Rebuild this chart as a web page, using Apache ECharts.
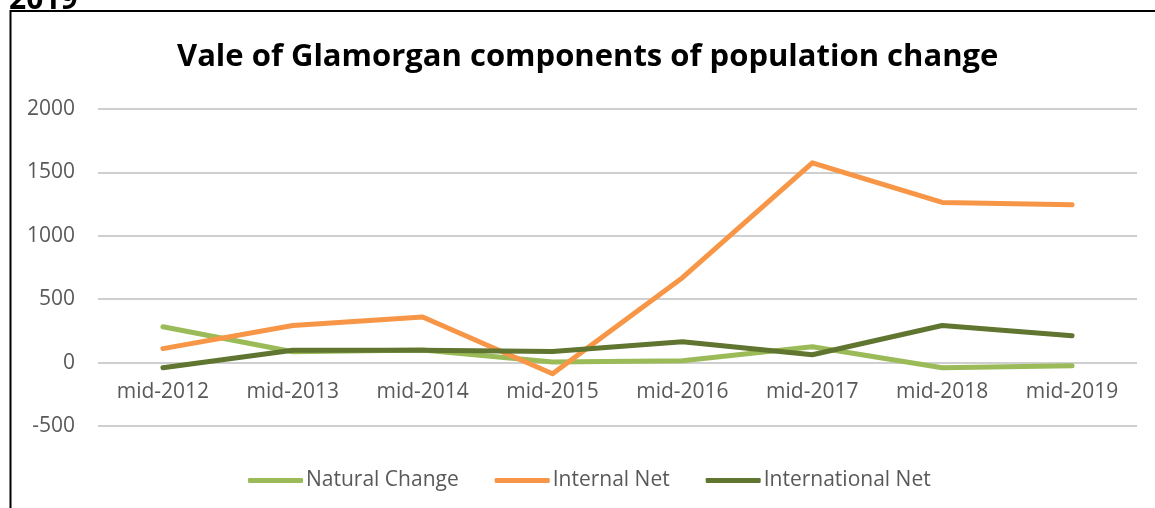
<!DOCTYPE html>
<html>
<head>
<meta charset="utf-8">
<script src="https://cdn.jsdelivr.net/npm/echarts@6/dist/echarts.min.js"></script>
<style>
html,body{margin:0;padding:0;background:#fff;}
#chart{width:1155px;height:508px;}
</style>
</head>
<body>
<div id="chart"></div>
<script>
var categories = ['mid-2012','mid-2013','mid-2014','mid-2015','mid-2016','mid-2017','mid-2018','mid-2019'];
var naturalChange = [283, 85, 100, 5, 15, 125, -40, -25];
var internalNet = [110, 292, 360, -88, 670, 1575, 1263, 1244];
var internationalNet = [-40, 97, 97, 88, 165, 62, 293, 212];
var yTicks = [-500, 0, 500, 1000, 1500, 2000];
var titleText = 'Vale of Glamorgan components of population change';
var seriesNames = ['Natural Change', 'Internal Net', 'International Net'];
var colors = ['#9BBB59', '#F79646', '#5F7530'];

var FONT = '"Open Sans"';
var W = 1155, H = 508;
var gridTop = 109, gridBottom = 82;
var yMin = yTicks[0], yMax = yTicks[yTicks.length - 1];
var gridH = H - gridTop - gridBottom;
// place the category axis at the value 0 (Excel style)
var zeroOffset = -gridH * (0 - yMin) / (yMax - yMin);

var chart = echarts.init(document.getElementById('chart'), null, {renderer: 'canvas'});
function mk(name, data, color) {
  return {
    name: name, type: 'line', data: data, symbol: 'none', smooth: false,
    lineStyle: {color: color, width: 5, cap: 'round', join: 'round'},
    itemStyle: {color: color}
  };
}
chart.setOption({
  animation: false,
  backgroundColor: '#ffffff',
  textStyle: {fontFamily: FONT},
  title: {
    text: titleText, left: 172, top: 37,
    textStyle: {fontFamily: FONT, fontWeight: 'bold', fontSize: 31, color: '#000000'}
  },
  legend: {
    top: 465, left: 243, itemWidth: 55, itemHeight: 5, itemGap: 36,
    icon: 'roundRect',
    textStyle: {fontFamily: FONT, fontSize: 21, color: '#595959', padding: [0,0,0,-2]},
    data: seriesNames
  },
  grid: {left: 98, right: 18, top: gridTop, bottom: gridBottom, containLabel: false},
  xAxis: {
    type: 'category', data: categories, boundaryGap: true,
    offset: zeroOffset,
    axisLine: {show: false},
    axisTick: {show: false},
    axisLabel: {color: '#595959', fontSize: 21, fontFamily: FONT, margin: 19}
  },
  yAxis: {
    type: 'value', min: yMin, max: yMax, interval: 500,
    axisLine: {show: false}, axisTick: {show: false},
    axisLabel: {color: '#595959', fontSize: 21, fontFamily: FONT, margin: 23,
      formatter: function (v) { return String(v); }},
    splitLine: {lineStyle: {color: '#BFBFBF', width: 1.5}}
  },
  series: [
    mk(seriesNames[0], naturalChange, colors[0]),
    mk(seriesNames[1], internalNet, colors[1]),
    mk(seriesNames[2], internationalNet, colors[2])
  ],
  graphic: [
    {type: 'rect', shape: {x: 10.5, y: 11, width: 1200, height: 600}, style: {fill: 'none', stroke: '#000', lineWidth: 2}, silent: true},
    {type: 'text', x: 9, y: 0, style: {text: '2019', font: 'bold 30px "Open Sans"', fill: '#000', verticalAlign: 'middle'}}
  ]
});
</script>
</body>
</html>
